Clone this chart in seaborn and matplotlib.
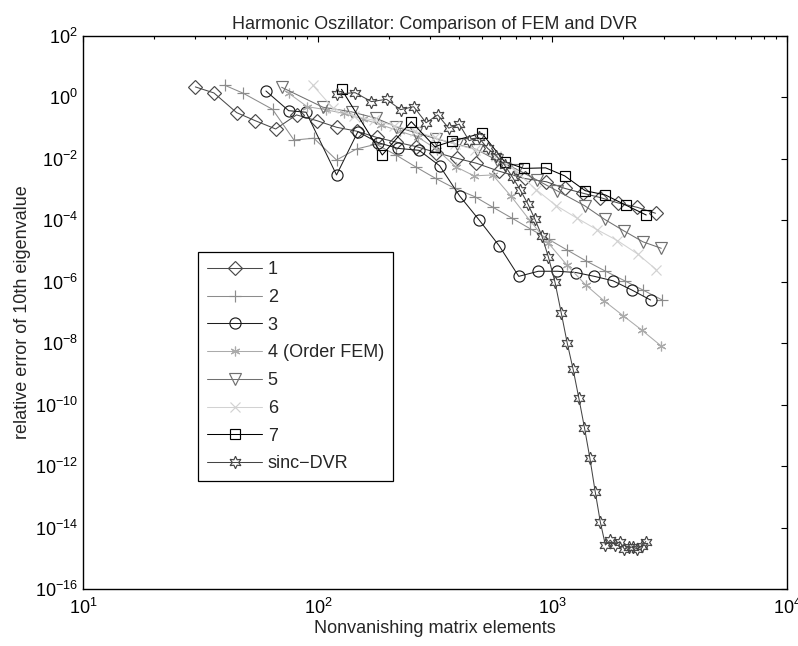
import numpy as np
import pandas as pd
import matplotlib
matplotlib.use("Agg")
import matplotlib.pyplot as plt
import matplotlib.ticker as mticker
import seaborn as sns

sns.set_style("white")
plt.rcParams['font.family'] = ['Liberation Sans', 'DejaVu Sans']
plt.rcParams['mathtext.default'] = 'regular'

# series 1 (diamond)
x1 = [30, 36, 45, 54, 66, 81, 99, 120, 146, 178, 216, 263, 320, 390, 474, 590, 760, 942, 1127, 1350, 1600, 1900, 2300, 2750]
y1 = [2.2, 1.4, 0.32, 0.175, 0.094, 0.27, 0.175, 0.107, 0.08, 0.05, 0.035, 0.025, 0.016, 0.0105, 0.0072, 0.004,
      0.0023, 0.0018, 0.0011, 7.6e-4, 5.5e-4, 3.7e-4, 2.65e-4, 1.7e-4]
# series 2 (plus)
x2 = [40, 48, 64, 79, 96, 120, 146, 177, 215, 263, 318, 383, 466, 558, 670, 804, 964, 1157, 1389, 1667, 2030, 2430, 2940]
y2 = [2.5, 1.37, 0.41, 0.041, 0.047, 0.0092, 0.021, 0.03, 0.0134, 5.3e-3, 2.3e-3, 1.1e-3, 5.9e-4, 2.65e-4, 1.19e-4,
      5.3e-5, 2.4e-5, 1.07e-5, 4.8e-6, 2.3e-6, 1.08e-6, 5.4e-7, 2.55e-7]
# series 3 (circle)
x3 = [60, 75, 89, 120, 148, 180, 219, 270, 330, 402, 488, 592, 718, 870, 1050, 1260, 1510, 1810, 2180, 2620]
y3 = [1.62, 0.37, 0.33, 0.003, 0.077, 0.034, 0.022, 0.019, 0.006, 6.2e-4, 1e-4, 1.5e-5, 1.5e-6, 2.2e-6, 2.2e-6,
      2.0e-6, 1.5e-6, 1.08e-6, 5.4e-7, 2.55e-7]
# series 4 (asterisk, order FEM)
x4 = [75, 90, 108, 129, 155, 186, 223, 268, 322, 386, 463, 556, 667, 800, 961, 1153, 1383, 1660, 2000, 2400, 2910]
y4 = [1.37, 0.5, 0.4, 0.3, 0.2, 0.127, 0.08, 0.05, 0.02, 5.6e-3, 2.8e-3, 3.0e-3, 6e-4, 1e-4, 1.8e-5, 3.5e-6, 8e-7,
      2.4e-7, 7.9e-8, 2.7e-8, 8.1e-9]
# series 5 (triangle)
x5 = [70, 105, 139, 177, 216, 263, 320, 390, 476, 580, 708, 863, 1050, 1370, 1667, 2010, 2430, 2910]
y5 = [2.14, 0.48, 0.34, 0.21, 0.11, 0.07, 0.045, 0.03, 0.02, 0.009, 0.0045, 0.002, 9e-4, 3e-4, 1.08e-4, 4.6e-5,
      2e-5, 1.23e-5]
# series 6 (cross)
x6 = [95, 116, 142, 173, 211, 258, 315, 384, 469, 572, 698, 851, 1038, 1267, 1546, 1890, 2310, 2770]
y6 = [2.5, 0.45, 0.25, 0.18, 0.12, 0.08, 0.05, 0.03, 0.02, 0.012, 0.004, 1e-3, 3e-4, 1.2e-4, 5e-5, 2.2e-5, 8e-6, 2.5e-6]
# series 7 (square)
x7 = [126, 188, 250, 315, 374, 500, 625, 753, 935, 1127, 1380, 1680, 2060, 2510]
y7 = [1.84, 0.0134, 0.163, 0.025, 0.038, 0.068, 0.0081, 0.0049, 0.0051, 0.0028, 9.2e-4, 6.7e-4, 3.1e-4, 1.49e-4]
# sinc-DVR (hexagram)
x8 = [121, 144, 169, 196, 225, 256, 289, 324, 361, 400, 441, 484, 529, 576, 625, 676, 729, 784, 841, 900,
      961, 1024, 1089, 1156, 1225, 1296, 1369, 1444, 1521, 1600, 1681, 1764, 1849, 1936, 2025, 2116, 2209,
      2304, 2401, 2500]
y8 = [1.29, 1.43, 0.73, 0.87, 0.40, 0.50, 0.15, 0.27, 0.10, 0.136, 0.039, 0.05, 0.022, 0.0126, 0.0063, 0.0025,
      9.7e-4, 3.5e-4, 1.1e-4, 3.2e-5, 6.3e-6, 1e-6, 1e-7, 1e-8, 1.4e-9, 1.6e-10, 1.78e-11, 1.8e-12, 1.47e-13,
      1.5e-14, 2.7e-15, 3.9e-15, 2.7e-15, 3.5e-15, 2.0e-15, 2.3e-15, 2.3e-15, 2.0e-15, 2.5e-15, 3.5e-15]

labels = ['1', '2', '3', '4 (Order FEM)', '5', '6', '7', 'sinc\u2212DVR']
xs = [x1, x2, x3, x4, x5, x6, x7, x8]
ys = [y1, y2, y3, y4, y5, y6, y7, y8]
colors = ['#4a4a4a', '#8c8c8c', '#1e1e1e', '#ababab', '#707070', '#d2d2d2', '#000000', '#454545']
markers = ['D', '+', 'o', (6, 2, 0), 'v', 'x', 's', (6, 1, 0)]
msizes = [7.5, 8, 8, 7, 8.5, 6.5, 6.5, 9]

fig = plt.figure(figsize=(7.98, 6.46), dpi=100)
ax = fig.add_axes([0.1046, 0.0882, 0.8816, 0.8561])

for lab, xv, yv, c, m, ms in zip(labels, xs, ys, colors, markers, msizes):
    df = pd.DataFrame({'x': xv, 'y': yv})
    sns.lineplot(data=df, x='x', y='y', ax=ax, color=c, marker=m, markersize=ms,
                 markerfacecolor='none', markeredgecolor=c, markeredgewidth=0.85,
                 linewidth=0.75, label=lab)

ax.set_xscale('log')
ax.set_yscale('log')
ax.set_xlim(10, 1e4)
ax.set_ylim(1e-16, 1e2)
ax.xaxis.set_major_locator(mticker.LogLocator(base=10))
ax.xaxis.set_minor_locator(mticker.LogLocator(base=10, subs=np.arange(2, 10)))
ax.xaxis.set_minor_formatter(mticker.NullFormatter())
ax.yaxis.set_major_locator(mticker.FixedLocator([10.0 ** k for k in range(-16, 3, 2)]))
ax.yaxis.set_major_formatter(mticker.LogFormatterSciNotation())
ax.yaxis.set_minor_locator(mticker.NullLocator())
ax.tick_params(which='both', direction='in', top=True, right=True, labelsize=13, colors='black')
ax.tick_params(which='major', length=4.5, width=0.8)
ax.tick_params(which='minor', length=2.2, width=0.8)
ax.tick_params(axis='x', which='major', pad=6.5)
ax.tick_params(axis='y', which='major', pad=4)
for sp in ax.spines.values():
    sp.set_color('black')
    sp.set_linewidth(1.0)

ax.set_xlabel('Nonvanishing matrix elements', fontsize=13, labelpad=1)
ax.set_ylabel('relative error of 10th eigenvalue', fontsize=13, labelpad=3)
ax.set_title('Harmonic Oszillator: Comparison of FEM and DVR', fontsize=13, pad=5)

leg = ax.legend(loc='upper left', bbox_to_anchor=(0.163, 0.609), borderaxespad=0, fontsize=13,
                handlelength=3.05, handletextpad=0.3, labelspacing=0.595, borderpad=0.5,
                fancybox=False, framealpha=1, edgecolor='black')
leg.get_frame().set_linewidth(0.9)

fig.savefig('out.png', dpi=100)
